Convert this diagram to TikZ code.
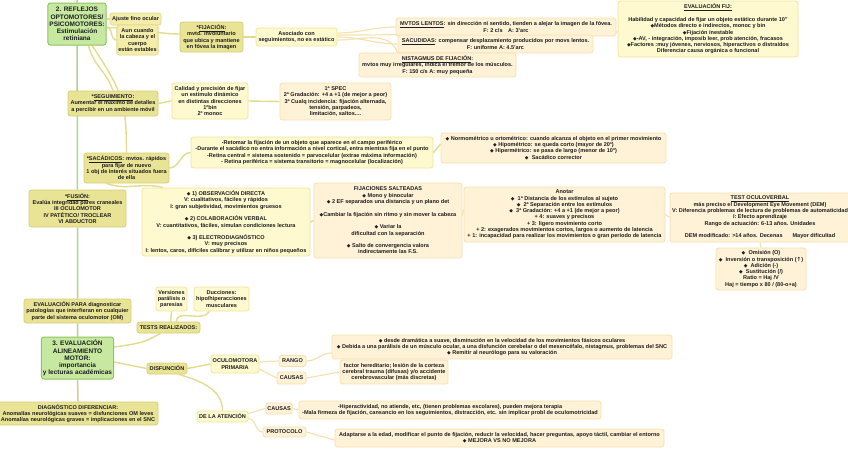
\documentclass[tikz,border=0pt]{standalone}
\usepackage{fontspec}
\setmainfont{Liberation Sans}
\newfontfamily\djv{DejaVu Sans}
\usetikzlibrary{backgrounds}
\definecolor{gfill}{HTML}{C7E8A0}
\definecolor{gdraw}{HTML}{8FC45E}
\definecolor{ofill}{HTML}{E9E395}
\definecolor{odraw}{HTML}{D6CF76}
\definecolor{yfill}{HTML}{F3EDA9}
\definecolor{ydraw}{HTML}{E2D98A}
\definecolor{lfill}{HTML}{FEF9CF}
\definecolor{ldraw}{HTML}{F1E59A}
\definecolor{cfill}{HTML}{FFF2D6}
\definecolor{cdraw}{HTML}{F7E0B0}
\definecolor{tcol}{HTML}{ADD58C}
\definecolor{tcol2}{HTML}{CFCC98}
\definecolor{lcol}{HTML}{E3DC90}
\definecolor{ccol}{HTML}{F4E3B2}
\definecolor{txt}{HTML}{1E1E1E}
\newcommand\dm{{\djv\fontsize{4.8}{6.3}\selectfont ◆}}
\begin{document}
\begin{tikzpicture}[x=1pt,y=-1pt,
  box/.style={rounded corners=2.5pt, line width=0.8pt, align=center, inner sep=1.5pt,
    text=txt, font=\bfseries\fontsize{5.55}{6.3}\selectfont},
  gbox/.style={box, fill=gfill, draw=gdraw, line width=1pt, font=\bfseries\fontsize{6.5}{7.2}\selectfont},
  obox/.style={box, fill=ofill, draw=odraw},
  ybox/.style={box, fill=yfill, draw=ydraw},
  lbox/.style={box, fill=lfill, draw=ldraw},
  cbox/.style={box, fill=cfill, draw=cdraw},
  conn/.style={draw=lcol, line width=1.4pt},
  cconn/.style={draw=ccol, line width=1.2pt},
  trunk/.style={draw=tcol, line width=1.5pt}]
\useasboundingbox (0,0) rectangle (848,475);

% ---------- upper part ----------
\node[gbox, minimum width=58pt, minimum height=42pt] (g1) at (77,24) {2. REFLEJOS\\OPTOMOTORES/\\PSICOMOTORES:\\Estimulación\\retiniana};
\node[ybox, minimum width=51pt, minimum height=12pt] (ajuste) at (135.5,19) {Ajuste fino ocular};
\node[ybox, minimum width=41pt, minimum height=30pt] (aun) at (137.5,40) {Aun cuando\\la cabeza y el\\cuerpo\\están estables};
\node[obox, minimum width=63pt, minimum height=30pt] (fij) at (211.5,37) {*\underline{FIJACIÓN}:\\mvto. involuntario\\que ubica y mantiene\\en fóvea la imagen};
\node[lbox, minimum width=81pt, minimum height=18pt] (asoc) at (296.5,37) {Asociado con\\seguimientos, no es estático};
\node[cbox, minimum width=220pt, minimum height=18pt] (lentos) at (506,27) {\underline{MVTOS LENTOS}: sin dirección ni sentido, tienden a alejar la imagen de la fóvea.\\F: 2 c/s\quad A: 3'arc};
\node[cbox, minimum width=195pt, minimum height=18pt] (sacud) at (495.5,44) {\underline{SACUDIDAS}: compensar desplazamiento producidos por movs lentos.\\F: uniforme A: 4.5'arc};
\node[cbox, minimum width=157pt, minimum height=24pt] (nist) at (437.5,65) {\underline{NISTAGMUS DE FIJACIÓN}:\\mvtos muy irregulares, indica el tremor de los músculos.\\F: 150 c/s A: muy pequeña};
\node[lbox, minimum width=180pt, minimum height=56pt] (evalfij) at (708,29) {\underline{EVALUACIÓN FIJ:}\\[6.3pt]Habilidad y capacidad de fijar un objeto estático durante 10''\\\dm Métodos directo e indirectos, monoc y bin\\\dm Fijación inestable\\\dm -AV, - integración, imposib leer, prob atención, fracasos\\\dm Factores :muy jóvenes, nerviosos, hiperactivos o distraídos\\Diferenciar causa orgánica o funcional};

\node[obox, minimum width=90pt, minimum height=25pt] (seg) at (113,103.5) {*\underline{SEGUIMIENTO}:\\Aumentar el máximo de detalles\\a percibir en un ambiente móvil};
\node[lbox, minimum width=76pt, minimum height=36pt] (cal) at (210,101) {Calidad y precisión de fijar\\un estímulo dinámico\\en distintas direcciones\\1ºbin\\2º monoc};
\node[cbox, minimum width=111pt, minimum height=37pt] (spec) at (335.5,101.5) {1ª SPEC\\2ª Gradación: +4 a +1 (de mejor a peor)\\3ª Cualq incidencia: fijación alternada,\\tensión, parpadeos,\\limitación, saltos....};

\node[obox, minimum width=85pt, minimum height=30pt] (sac) at (126.5,168) {*\underline{SACÁDICOS}: mvtos. rápidos\\para fijar de nuevo\\1 obj de interés situados fuera\\de ella};
\node[lbox, minimum width=242pt, minimum height=31pt] (ret) at (312,152.5) {-Retomar la fijación de un objeto que aparece en el campo periférico\\-Durante el sacádico no entra información a nivel cortical, entra mientras fija en el punto\\-Retina central = sistema sostenido = parvocelular (extrae máxima información)\\- Retina periférica = sistema transitorio = magnocelular (localización)};
\node[cbox, minimum width=225pt, minimum height=30pt] (normo) at (553.5,148) {\dm\ Normométrico u ortométrico: cuando alcanza el objeto en el primer movimiento\\\dm\ Hipométrico: se queda corto (mayor de 20º)\\\dm\ Hipermétrico: se pasa de largo (menor de 10º)\\\dm\ \ Sacádico corrector};

\node[obox, minimum width=97pt, minimum height=37pt] (fus) at (77.5,208.5) {*\underline{FUSIÓN}:\\Evalúa integridad pares craneales\\III OCULOMOTOR\\IV PATÉTICO/ TROCLEAR\\VI ABDUCTOR};
\node[lbox, minimum width=168pt, minimum height=68pt] (obs) at (226,222) {\dm\ 1) OBSERVACIÓN DIRECTA\\V: cualitativos, fáciles y rápidos\\I: gran subjetividad, movimientos gruesos\\[6.3pt]\dm\ 2) COLABORACIÓN VERBAL\\V: cuantitativos, fáciles, simulan condiciones lectura\\[6.3pt]\dm\ 3) ELECTRODIAGNÓSTICO\\V: muy precisos\\I: lentos, caros, difíciles calibrar y utilizar en niños pequeños};
\node[cbox, minimum width=148pt, minimum height=75pt] (fsalt) at (388,220.5) {FIJACIONES SALTEADAS\\\dm\ Mono y binocular\\\dm\ 2 EF separados una distancia y un plano det\\[6.3pt]\dm Cambiar la fijación sin ritmo y sin mover la cabeza\\[6.3pt]\dm\ Variar la\\dificultad con la separación\\[6.3pt]\dm\ Salto de convergencia valora\\indirectamente las F.S.};
\node[cbox, minimum width=201pt, minimum height=55pt] (anot) at (564.5,214.5) {Anotar\\\dm\ \ 1ª Distancia de los estímulos al sujeto\\\dm\ \ 2ª Separación entre los estímulos\\\dm\ \ 3ª Gradación: +4 a +1 (de mejor a peor)\\+ 4: suaves y precisos\\+ 3: ligero movimiento corto\\+ 2: exagerados movimientos cortos, largos o aumento de latencia\\+ 1: incapacidad para realizar los movimientos o gran periodo de latencia};
\node[cbox, minimum width=180pt, minimum height=49pt] (tov) at (760,217.5) {\underline{TEST OCULOVERBAL}\\más preciso el Development Eye Movement (DEM)\\V: Diferencia problemas de lectura de problemas de automaticidad\\I: Efecto aprendizaje\\Rango de actuación: 6-13 años. Unidades\\[6.3pt]DEM modificado: >14 años. Decenas\hspace{10pt}Mayor dificultad};
\node[cbox, minimum width=90pt, minimum height=42pt] (omis) at (761,269) {\dm\ \ Omisión (O)\\\dm\ \ Inversión o transposición ({\djv ↑})\\\dm\ \ Adición (-)\\\dm\ \ Sustitución (/)\\Ratio = Haj /V\\Haj = tiempo x 80 / (80-o+a)};

% ---------- lower part ----------
\node[obox, minimum width=107pt, minimum height=24pt] (evpara) at (77.5,311) {EVALUACIÓN PARA diagnosticar\\patologías que interfieran en cualquier\\parte del sistema oculomotor (OM)};
\node[gbox, minimum width=71pt, minimum height=42pt] (g3) at (77.5,358) {3. EVALUACIÓN\\ALINEAMIENTO\\MOTOR:\\importancia\\y lecturas académicas};
\node[obox, minimum width=160pt, minimum height=23pt] (diag) at (78,413.5) {DIAGNÓSTICO DIFERENCIAR:\\Anomalías neurológicas suaves = disfunciones OM leves\\Anomalías neurológicas graves = implicaciones en el SNC};

\node[lbox, minimum width=31pt, minimum height=24pt] (vers) at (171.5,299) {Versiones\\parálisis o\\paresias};
\node[lbox, minimum width=55pt, minimum height=24pt] (ducc) at (221.5,299) {Ducciones:\\hipo/hiperacciones\\musculares};
\node[obox, minimum width=63pt, minimum height=11pt] (tests) at (168.5,327.5) {TESTS REALIZADOS:};
\node[obox, minimum width=40pt, minimum height=11pt] (disf) at (167,368.5) {DISFUNCIÓN};
\node[lbox, minimum width=48pt, minimum height=18pt] (ocul) at (235,364) {OCULOMOTORA\\PRIMARIA};
\node[cbox, minimum width=27pt, minimum height=11pt] (rango) at (292.5,361) {RANGO};
\node[cbox, minimum width=29pt, minimum height=12pt] (causas1) at (291.5,378) {CAUSAS};
\node[cbox, minimum width=340pt, minimum height=24pt] (dram) at (502,347) {\dm\ desde dramática a suave, disminución en la velocidad de los movimientos fásicos oculares\\\dm\ Debida a una parálisis de un músculo ocular, a una disfunción cerebelar o del mesencéfalo, nistagmus, problemas del SNC\\\dm\ Remitir al neurólogo para su valoración};
\node[cbox, minimum width=108pt, minimum height=24pt] (fact) at (394,372) {factor hereditario; lesión de la corteza\\cerebral trauma (difusas) y/o accidente\\cerebrovascular (más discretas)};
\node[lbox, minimum width=51pt, minimum height=11pt] (aten) at (222.5,416.5) {DE LA ATENCIÓN};
\node[cbox, minimum width=26pt, minimum height=11pt] (causas2) at (279,408.5) {CAUSAS};
\node[cbox, minimum width=43pt, minimum height=10pt] (proto) at (284.5,432) {PROTOCOLO};
\node[cbox, minimum width=302pt, minimum height=18pt] (hiper) at (450,410) {-Hiperactividad, no atiende, etc, (tienen problemas escolares), pueden mejora terapia\\-Mala firmeza de fijación, cansancio en los seguimientos, distracción, etc. sin implicar probl de oculomotricidad};
\node[cbox, minimum width=329pt, minimum height=18pt] (adap) at (499.5,438) {Adaptarse a la edad, modificar el punto de fijación, reducir la velocidad, hacer preguntas, apoyo táctil, cambiar el entorno\\\dm\ MEJORA VS NO MEJORA};

\coordinate (top) at (77,0);

\begin{pgfonlayer}{background}
\fill[white] (0,0) rectangle (848,475);
% trunk
\draw[trunk] (top) -- (g1) -- (fus) -- (evpara) -- (g3);
\draw[draw=tcol2, line width=1.5pt] (g3) -- (diag);
% reflejos branch
\draw[conn] ([yshift=5pt]g1.east) -- (ajuste.west);
\draw[conn] ([yshift=-3pt]g1.east) to[out=0,in=180] (aun.west);
\draw[conn] ([yshift=-4pt]g1.east) to[out=5,in=180] ([yshift=3pt]fij.west);
\draw[conn, line width=2pt] (fij.east) -- (asoc.west);
\draw[cconn] ([yshift=4pt]asoc.east) to[out=0,in=180] (lentos.west);
\draw[cconn] (asoc.east) to[out=0,in=180] (sacud.west);
\draw[cconn] ([yshift=-3pt]asoc.east) to[out=0,in=110] ([xshift=-40pt]nist.north);
\draw[cconn] ([yshift=2pt]asoc.east) to[out=0,in=180] ([yshift=-3pt]evalfij.west);
\draw[conn] (g1.-62) .. controls +(6,22) and +(-8,-22) .. (seg.north);
\draw[conn] (g1.-55) .. controls +(30,45) and +(0,-50) .. (sac.north);
\draw[conn] (seg.east) -- (cal.west);
\draw[conn] (cal.east) -- (spec.west);
\draw[conn] (sac.east) to[out=0,in=180] (ret.west);
\draw[conn] (ret.east) -- ([yshift=4pt]normo.west);
\draw[conn] ([xshift=-20pt]sac.south) to[out=-20,in=165] ([xshift=-63pt]obs.north);
\draw[conn] (obs.east) -- (fsalt.west);
\draw[cconn] ([yshift=5pt]fsalt.east) -- ([yshift=5pt]anot.west);
\draw[cconn] (anot.east) -- (tov.west);
\draw[cconn] (tov.south) -- (omis.north);
% lower branch
\draw[conn] ([yshift=11pt]g3.east) .. controls +(30,-4) and +(-15,8) .. ([xshift=-8pt]tests.south);
\draw[conn] ([xshift=2pt]tests.north) -- (vers.south);
\draw[conn] ([xshift=8pt]tests.north) to[out=90,in=-120] ([xshift=-12pt]ducc.south);
\draw[conn] ([yshift=-4pt]g3.east) -- (disf.west);
\draw[conn] (disf.east) -- (ocul.west);
\draw[conn] ([xshift=12pt]disf.south) .. controls +(20,6) and +(0,-22) .. (aten.north);
\draw[cconn] ([yshift=2pt]ocul.east) -- (rango.west);
\draw[cconn] ([yshift=-5pt]ocul.east) -- (causas1.west);
\draw[cconn] (rango.east) to[out=0,in=180] ([yshift=-6pt]dram.west);
\draw[cconn] (causas1.east) -- (fact.west);
\draw[cconn] ([yshift=3pt]aten.east) -- (causas2.west);
\draw[cconn] ([yshift=-2pt]aten.east) to[out=0,in=180] (proto.west);
\draw[cconn] (causas2.east) -- (hiper.west);
\draw[cconn] (proto.east) -- ([yshift=-2pt]adap.west);
\end{pgfonlayer}
\end{tikzpicture}
\end{document}
